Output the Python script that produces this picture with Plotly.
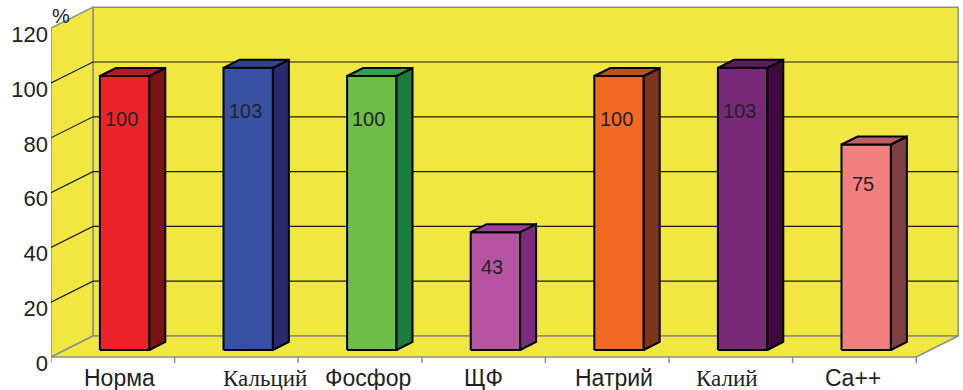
import plotly.graph_objects as go

# ---- data ----
categories = ["Норма", "Кальций", "Фосфор", "ЩФ", "Натрий", "Калий", "Ca++"]
values = [100, 103, 100, 43, 100, 103, 75]
y_ticks = [0, 20, 40, 60, 80, 100, 120]
y_unit = "%"

# ---- styles ----
front_colors = ["#EE2229", "#3752A3", "#6DBE45", "#B654A2", "#F26A21", "#772877", "#F38080"]
side_colors = ["#7B1315", "#262A70", "#1A7D3E", "#7B2A7D", "#7D3519", "#3E0A3E", "#7F3E40"]
top_colors = ["#B01E24", "#2E4394", "#2DA44A", "#9E3D95", "#B8541E", "#5C1C5C", "#BF5E60"]
label_serif = [False, True, False, False, False, True, False]
label_xshift = [7, 29, 8, 0, 7, -4, -1]

WALL = "#F0E841"
EDGE = "#8C8C8C"
GRID = "#1A1A1A"
SANS = "Liberation Sans, Arial, sans-serif"
SERIF = "Liberation Serif, Times New Roman, serif"

# pixel scale helpers (px per data unit)
CAT_PX = 123.6
VAL_PX = 2.74
WDX, WDY = 42 / CAT_PX, 21 / VAL_PX          # wall depth
BOX, BOY = 11.8 / CAT_PX, 7 / VAL_PX          # bar offset from front plane
BHALF = 24.7 / CAT_PX                          # half bar width
BDX, BDY = 16 / CAT_PX, 8 / VAL_PX            # bar depth

n = len(categories)
ymax = y_ticks[-1]
xl, xr = -0.5, n - 0.5

fig = go.Figure()

def poly(xs, ys, fill, line_color, lw):
    fig.add_trace(go.Scatter(x=xs + [xs[0]], y=ys + [ys[0]], mode="lines", fill="toself",
                             fillcolor=fill, line=dict(color=line_color, width=lw),
                             hoverinfo="skip", showlegend=False))

def seg(xs, ys, color, lw):
    fig.add_trace(go.Scatter(x=xs, y=ys, mode="lines", line=dict(color=color, width=lw),
                             hoverinfo="skip", showlegend=False))

# walls
poly([xl + WDX, xr + WDX, xr + WDX, xl + WDX], [WDY, WDY, ymax + WDY, ymax + WDY], WALL, EDGE, 1.5)
poly([xl, xl, xl + WDX, xl + WDX], [0, ymax, ymax + WDY, WDY], WALL, EDGE, 1.5)
poly([xl, xr, xr + WDX, xl + WDX], [0, 0, WDY, WDY], WALL, EDGE, 1.5)

# grid lines
for v in y_ticks[1:-1]:
    seg([xl, xl + WDX, xr + WDX], [v, v + WDY, v + WDY], GRID, 1.2)

# x axis ticks
tick_len = 6 / VAL_PX
for k in range(n + 1):
    seg([xl + k, xl + k], [0, -tick_len], EDGE, 1.5)

# bars
for i, v in enumerate(values):
    x0 = i + BOX - BHALF
    x1 = i + BOX + BHALF
    y0 = BOY
    y1 = v + BOY
    poly([x0, x1, x1, x0], [y0, y0, y1, y1], front_colors[i], "black", 2)
    poly([x1, x1 + BDX, x1 + BDX, x1], [y0, y0 + BDY, y1 + BDY, y1], side_colors[i], "black", 2)
    poly([x0, x0 + BDX, x1 + BDX, x1], [y1, y1 + BDY, y1 + BDY, y1], top_colors[i], "black", 2)

# value labels
for i, v in enumerate(values):
    fig.add_annotation(x=i + BOX, y=v * 0.95 - 8, text=str(v), showarrow=False,
                       xshift=-3, font=dict(family=SANS, size=20, color="#222222"))

# category labels
for i, c in enumerate(categories):
    fig.add_annotation(x=i, y=0, text=c, showarrow=False, yshift=-21, xshift=label_xshift[i],
                       yanchor="middle",
                       font=dict(family=SERIF if label_serif[i] else SANS, size=23, color="#222222"))

# y unit
fig.add_annotation(x=xl, y=ymax, text=y_unit, showarrow=False, xshift=10, yshift=12,
                   font=dict(family=SANS, size=20, color="#222222"))

W, H = 963, 390
ml, mr, mt, mb = 51, 0, 0, 20
pw, ph = W - ml - mr, H - mt - mb
zero_py = 357
fig.update_layout(
    width=W, height=H,
    margin=dict(l=ml, r=mr, t=mt, b=mb),
    paper_bgcolor="white", plot_bgcolor="white",
    xaxis=dict(range=[xl, xl + pw / CAT_PX], showgrid=False, zeroline=False,
               showticklabels=False, showline=False, fixedrange=True),
    yaxis=dict(range=[(zero_py - ph) / VAL_PX, zero_py / VAL_PX], showgrid=False, zeroline=False,
               showline=False, tickvals=y_ticks, ticktext=[str(t) for t in y_ticks],
               tickfont=dict(family=SANS, size=22, color="#222222"),
               ticklabelshift=6, ticklabelstandoff=2, fixedrange=True),
)

fig.write_html("out.html")
